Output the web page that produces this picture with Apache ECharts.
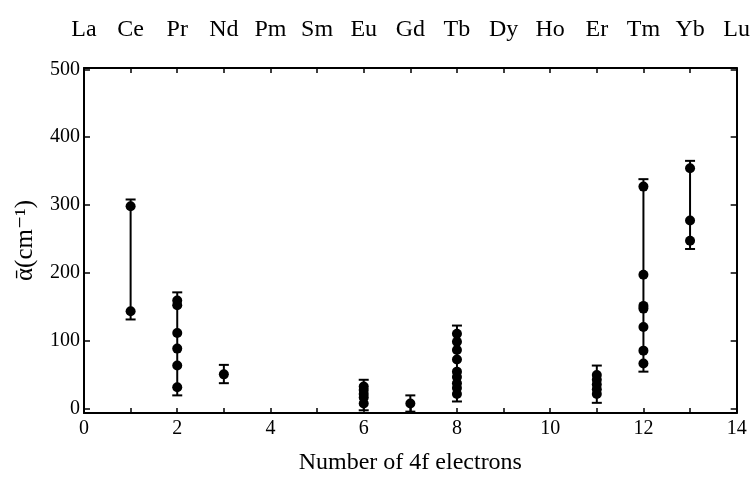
<!DOCTYPE html>
<html>
<head>
<meta charset="utf-8">
<script src="https://cdn.jsdelivr.net/npm/echarts@6/dist/echarts.min.js"></script>
<style>html,body{margin:0;padding:0;background:#fff}#c{width:753px;height:480px}</style>
</head>
<body>
<div id="c"></div>
<script>
// Element names for 4f electron counts 0..14 (top axis labels)
var elementNames = ['La','Ce','Pr','Nd','Pm','Sm','Eu','Gd','Tb','Dy','Ho','Er','Tm','Yb','Lu'];
var yTickValues = [0, 100, 200, 300, 400, 500];

// Number of 4f electrons for each measured ion
var electronCounts = [1, 2, 3, 6, 7, 8, 11, 12, 13];

// Measured alpha-bar values (cm^-1) per ion
var ceValues = [298, 143];
var prValues = [159, 152, 111, 88, 63, 31];
var ndValues = [50];
var euValues = [32, 27, 21, 16, 7];
var gdValues = [7];
var tbValues = [110, 98, 86, 72, 54, 46, 37, 30, 21];
var erValues = [49, 42, 35, 28, 21];
var tmValues = [327, 197, 151, 147, 120, 85, 66];
var ybValues = [354, 277, 247];

// Error bar extents per ion
var errLow  = [131, 19, 37, -3, -5, 10, 8, 54, 235];
var errHigh = [308, 171, 64, 42, 19, 122, 63, 338, 365];

var valueGroups = [ceValues, prValues, ndValues, euValues, gdValues, tbValues, erValues, tmValues, ybValues];

var pointData = [];
valueGroups.forEach(function (g, i) {
  g.forEach(function (v) { pointData.push([electronCounts[i], v]); });
});
var barData = electronCounts.map(function (x, i) { return [x, errLow[i], errHigh[i]]; });

var serif = "'Liberation Serif', 'DejaVu Serif', serif";
var chart = echarts.init(document.getElementById('c'), null, {renderer: 'canvas'});
chart.setOption({
  animation: false,
  backgroundColor: '#fff',
  grid: {left: 84, right: 15, top: 68, bottom: 52, containLabel: false},
  xAxis: [{
    type: 'value', min: 0, max: 14, interval: 1, position: 'bottom',
    name: 'Number of 4f electrons', nameLocation: 'middle', nameGap: 38,
    nameTextStyle: {fontFamily: serif, fontSize: 24, color: '#000'},
    axisLine: {onZero: false, lineStyle: {color: '#000', width: 2}},
    axisTick: {inside: true, length: 5, lineStyle: {color: '#000', width: 1.5}},
    axisLabel: {fontFamily: serif, fontSize: 20, color: '#000', margin: 6,
      formatter: function (v) { return (v % 2 === 0) ? String(v) : ''; }},
    splitLine: {show: false}
  }, {
    type: 'value', min: 0, max: 14, interval: 1, position: 'top',
    axisLine: {onZero: false, lineStyle: {color: '#000', width: 2}},
    axisTick: {inside: true, length: 5, lineStyle: {color: '#000', width: 1.5}},
    axisLabel: {fontFamily: serif, fontSize: 24, color: '#000', margin: 26,
      formatter: function (v) { return Number.isInteger(v) ? (elementNames[v] || '') : ''; }},
    splitLine: {show: false}
  }],
  yAxis: [{
    type: 'value', min: -7, max: 502, position: 'left',
    name: 'ᾱ(cm⁻¹)', nameLocation: 'middle', nameGap: 46, nameRotate: 90,
    nameTextStyle: {fontFamily: serif, fontSize: 25, color: '#000'},
    axisLine: {onZero: false, lineStyle: {color: '#000', width: 2}},
    axisTick: {inside: true, length: 6, customValues: yTickValues, lineStyle: {color: '#000', width: 1.5}},
    axisLabel: {fontFamily: serif, fontSize: 20, color: '#000', margin: 4, customValues: yTickValues},
    splitLine: {show: false}
  }, {
    type: 'value', min: -7, max: 502, position: 'right',
    axisLine: {onZero: false, lineStyle: {color: '#000', width: 2}},
    axisTick: {inside: true, length: 6, customValues: yTickValues, lineStyle: {color: '#000', width: 1.5}},
    axisLabel: {show: false},
    splitLine: {show: false}
  }],
  series: [{
    type: 'custom',
    xAxisIndex: 0, yAxisIndex: 0,
    data: barData,
    renderItem: function (params, api) {
      var x = api.value(0);
      var lo = api.coord([x, api.value(1)]);
      var hi = api.coord([x, api.value(2)]);
      var w = 5;
      var st = {stroke: '#000', lineWidth: 2};
      return {type: 'group', children: [
        {type: 'line', shape: {x1: lo[0], y1: lo[1], x2: hi[0], y2: hi[1]}, style: st},
        {type: 'line', shape: {x1: hi[0] - w, y1: hi[1], x2: hi[0] + w, y2: hi[1]}, style: st},
        {type: 'line', shape: {x1: lo[0] - w, y1: lo[1], x2: lo[0] + w, y2: lo[1]}, style: st}
      ]};
    },
    z: 2
  }, {
    type: 'scatter',
    xAxisIndex: 0, yAxisIndex: 0,
    data: pointData,
    symbol: 'circle', symbolSize: 10,
    itemStyle: {color: '#000', opacity: 1},
    z: 3
  }]
});
</script>
</body>
</html>
